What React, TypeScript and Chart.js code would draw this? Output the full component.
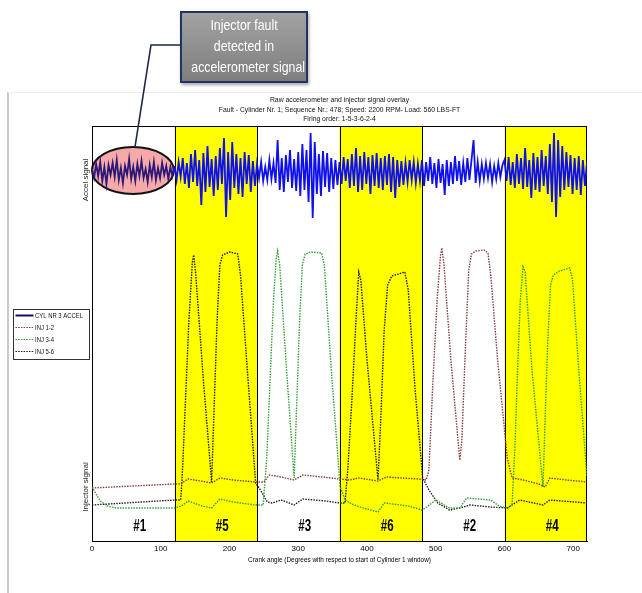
import { useEffect, useRef } from "react";
import { Chart, registerables } from "chart.js";

Chart.register(...registerables);

const FONT = '"Liberation Sans", Arial, sans-serif';

const TITLE_LINES = [
  "Raw accelerometer and injector signal overlay",
  "Fault - Cylinder Nr. 1; Sequence Nr.: 478; Speed: 2200 RPM- Load: 560 LBS-FT",
  "Firing order: 1-5-3-6-2-4",
];
const X_TITLE = "Crank angle (Degrees with respect to start of Cylinder 1 window)";
const X_TICKS = [0, 100, 200, 300, 400, 500, 600, 700];
const CALLOUT_LINES = ["Injector fault", "detected in", "accelerometer signal"];
const Y_LABELS = ["Accel signal", "Injector signal"];

const WINDOW_STARTS = [0, 120, 240, 360, 480, 600];
const WINDOW_WIDTH = 120;
const WINDOW_LABELS = ["#1", "#5", "#3", "#6", "#2", "#4"];
const WINDOW_HIGHLIGHT = [false, true, false, true, false, true];

const SERIES_LABELS = ["CYL NR 3 ACCEL", "INJ 1-2", "INJ 3-4", "INJ 5-6"];
const SERIES_COLORS = ["#1010ee", "#8a3b3b", "#34a034", "#1e1e1e"];

// Accelerometer samples, every 3 degrees from 0 to 720
const ACCEL_STEP = 3;
const ACCEL_VALUES = [
  3, -6, 8, -4, 10, -9, 5, -12, 7, -3,
  9, -5, 12, -8, 4, -11, 6, -3, 13, -7,
  5, -9, 8, -4, 11, -6, 3, -10, 7, -5,
  10, -8, 4, -6, 9, -3, 6, -7, 5, -4,
  6, -8, 10, -5, 14, -12, 9, -16, 18, -10,
  22, -14, 12, -33, 19, -20, 26, -15, 13, -24,
  16, -18, 24, -12, 34, -45, 20, -28, 30, -16,
  18, -22, 14, -25, 20, -12, 17, -20, 11, -14,
  8, -6, 10, -9, 5, -8, 12, -7, 9, -11,
  32, -18, 14, -20, 17, -10, 22, -16, 13, -19,
  20, -24, 28, -18, 22, -30, 39, -46, 30, -22,
  18, -24, 21, -15, 19, -20, 14, -17, 12, -13,
  10, -12, 15, -9, 13, -16, 18, -14, 24, -20,
  16, -18, 20, -12, 15, -22, 17, -14, 19, -16,
  14, -18, 16, -13, 18, -20, 15, -26, 12, -15,
  11, -13, 9, -10, 12, -8, 10, -11, 8, -9,
  12, -14, 10, -9, 15, -12, 9, -16, 13, -11,
  8, -23, 12, -14, 10, -12, 16, -9, 11, -13,
  9, -10, 14, -8, 12, 32, -11, 10, -9, 8,
  -7, 9, -6, 8, -10, 6, -7, 9, -5, 7,
  12, -9, 15, -13, 10, -16, 18, -12, 14, -17,
  24, -15, 12, -26, 19, -18, 15, -20, 22, -14,
  16, -22, 28, -30, 39, -45, 32, -25, 26, -18,
  20, -15, 17, -22, 14, -18, 16, -23, 12, -14,
  10,
];

const INJ12_ANGLES = [
  0, 120, 128, 140, 158, 174, 186, 205, 238, 250, 258, 275, 294, 307, 335, 360, 375, 388, 416, 428, 475, 486,
  490, 496, 502, 507, 509, 512, 522, 535, 538, 543, 548, 552, 558, 570, 576, 580, 590, 604, 611,
  627, 650, 659, 666, 690, 720,
];
const INJ12_VALUES = [
  53, 57, 57, 62, 60, 58, 63, 61, 59, 59, 66, 64, 61, 66, 64, 62, 61, 63, 60, 64, 62, 61,
  71, 161, 241, 286, 293, 276, 181, 81, 101, 191, 271, 287, 290, 291, 288, 266, 181, 83, 63,
  61, 57, 54, 63, 61, 59,
];

const INJ34_ANGLES = [
  0, 5, 12, 22, 35, 120, 130, 140, 160, 174, 186, 205, 238, 249,
  254, 259, 264, 268, 270, 273, 283, 294, 298, 302, 306, 310, 318, 334, 338, 348, 361,
  368, 375, 385, 400, 416, 425, 460, 480, 487, 500, 520, 535, 545, 580, 592, 605, 611,
  615, 619, 623, 627, 630, 640, 656, 659, 663, 667, 671, 680, 695, 699, 708, 720,
];
const INJ34_VALUES = [
  54, 48, 40, 35, 33, 33, 35, 40, 35, 33, 42, 39, 36, 36,
  81, 161, 241, 283, 290, 276, 171, 63, 141, 221, 276, 287, 289, 288, 276, 171, 54,
  41, 38, 35, 32, 29, 38, 35, 31, 34, 41, 33, 33, 43, 41, 35, 33, 36,
  91, 171, 241, 274, 269, 171, 54, 121, 201, 256, 266, 270, 273, 261, 171, 64,
];

const INJ56_ANGLES = [
  0, 120, 129, 131, 136, 141, 146, 148, 151, 162, 174, 178, 182, 186, 190, 200, 212, 216, 227, 238,
  245, 255, 262, 275, 294, 307, 340, 360, 368,
  372, 378, 384, 388, 391, 400, 416, 420, 425, 430, 436, 446, 455, 460, 470, 481,
  490, 503, 520, 535, 550, 580, 604, 622, 656, 666, 720,
];
const INJ56_VALUES = [
  36, 41, 41, 61, 141, 221, 279, 286, 266, 161, 59, 141, 221, 276, 286, 289, 287, 266, 161, 58,
  51, 39, 38, 41, 36, 42, 40, 38, 38,
  71, 141, 221, 269, 261, 181, 61, 121, 211, 256, 265, 267, 269, 251, 151, 63,
  51, 38, 31, 33, 36, 34, 33, 41, 36, 41, 38,
];

// Callout ellipse around the faulty window (degrees, accel units)
const ELLIPSE_X = [0, 119];
const ELLIPSE_Y = [-22, 25];

function squeezedText(ctx: any, text: string, x: number, y: number, sx: number, align: string) {
  ctx.save();
  ctx.translate(x, y);
  ctx.scale(sx, 1);
  ctx.textAlign = align;
  ctx.fillText(text, 0, 0);
  ctx.restore();
}

export default function App() {
  const ref = useRef<HTMLCanvasElement>(null);

  useEffect(() => {
    const canvas = ref.current;
    if (!canvas) return;

    const pts = (xs: number[], ys: number[]) => xs.map((x, i) => ({ x, y: ys[i] }));
    const accelPts = ACCEL_VALUES.map((v, i) => ({ x: i * ACCEL_STEP, y: v }));

    const backdrop = {
      id: "backdrop",
      beforeDatasetsDraw(chart: any) {
        const { ctx, chartArea: a, scales } = chart;
        const xs = scales.x;
        const ya = scales.yA;
        ctx.save();
        WINDOW_STARTS.forEach((s, i) => {
          if (!WINDOW_HIGHLIGHT[i]) return;
          const l = xs.getPixelForValue(s);
          const r = xs.getPixelForValue(s + WINDOW_WIDTH);
          ctx.fillStyle = "#ffff00";
          ctx.fillRect(l, a.top, r - l, a.bottom - a.top);
        });
        const ex0 = xs.getPixelForValue(ELLIPSE_X[0]);
        const ex1 = xs.getPixelForValue(ELLIPSE_X[1]);
        const ey0 = ya.getPixelForValue(ELLIPSE_Y[1]);
        const ey1 = ya.getPixelForValue(ELLIPSE_Y[0]);
        ctx.beginPath();
        ctx.ellipse((ex0 + ex1) / 2, (ey0 + ey1) / 2, (ex1 - ex0) / 2, (ey1 - ey0) / 2, 0, 0, Math.PI * 2);
        ctx.fillStyle = "#f6a9a9";
        ctx.fill();
        ctx.lineWidth = 2;
        ctx.strokeStyle = "#111";
        ctx.stroke();
        ctx.strokeStyle = "#000";
        ctx.lineWidth = 1;
        WINDOW_STARTS.slice(1).forEach((s) => {
          const px = Math.round(xs.getPixelForValue(s)) + 0.5;
          ctx.beginPath();
          ctx.moveTo(px, a.top);
          ctx.lineTo(px, a.bottom);
          ctx.stroke();
        });
        ctx.strokeRect(Math.round(a.left) + 0.5, Math.round(a.top) + 0.5, Math.round(a.right - a.left) - 1, Math.round(a.bottom - a.top));
        ctx.restore();
      },
      afterDatasetsDraw(chart: any) {
        const { ctx, chartArea: a, scales } = chart;
        const xs = scales.x;
        const cx = (a.left + a.right) / 2;
        ctx.save();
        ctx.textBaseline = "middle";
        // title
        ctx.fillStyle = "#111";
        ctx.font = `8px ${FONT}`;
        TITLE_LINES.forEach((t, i) => squeezedText(ctx, t, cx, a.top - 26 + i * 9.5, 0.85, "center"));
        // x title
        ctx.fillStyle = "#000";
        squeezedText(ctx, X_TITLE, cx, a.bottom + 19, 0.8, "center");
        // window labels
        ctx.font = `bold 16px ${FONT}`;
        WINDOW_STARTS.forEach((s, i) => {
          squeezedText(ctx, WINDOW_LABELS[i], xs.getPixelForValue(s + WINDOW_WIDTH / 2), a.bottom - 14, 0.72, "left");
        });
        // side labels
        ctx.font = `8px ${FONT}`;
        ctx.fillStyle = "#222";
        ctx.textAlign = "center";
        const side = (text: string, y: number) => {
          ctx.save();
          ctx.translate(a.left - 6, y);
          ctx.rotate(-Math.PI / 2);
          ctx.fillText(text, 0, 0);
          ctx.restore();
        };
        side(Y_LABELS[0], scales.yA.getPixelForValue(-8));
        side(Y_LABELS[1], scales.yI.getPixelForValue(54));
        // legend
        const lx = 13.5, ly = 309.5, lw = 76, lh = 50;
        ctx.fillStyle = "#fff";
        ctx.fillRect(lx, ly, lw, lh);
        ctx.strokeStyle = "#333";
        ctx.lineWidth = 1;
        ctx.strokeRect(lx, ly, lw, lh);
        ctx.font = `8px ${FONT}`;
        chart.data.datasets.forEach((d: any, i: number) => {
          const y = ly + 6 + i * 12;
          ctx.beginPath();
          ctx.strokeStyle = i === 0 ? "#101060" : d.borderColor;
          ctx.lineWidth = i === 0 ? 2 : 1.2;
          ctx.setLineDash(i === 0 ? [] : [1.5, 1.2]);
          ctx.moveTo(lx + 2, y);
          ctx.lineTo(lx + 20, y);
          ctx.stroke();
          ctx.setLineDash([]);
          ctx.fillStyle = "#111";
          squeezedText(ctx, d.label, lx + 21.5, y + 0.5, 0.74, "left");
        });
        ctx.restore();
      },
    };

    const injDs = (label: string, color: string, data: any[]) => ({
      label,
      data,
      yAxisID: "yI",
      borderColor: color,
      borderWidth: 1.4,
      borderDash: [1.5, 1.2],
      pointRadius: 0,
      tension: 0,
      fill: false,
    });

    const chart = new Chart(canvas, {
      type: "line",
      data: {
        datasets: [
          {
            label: SERIES_LABELS[0],
            data: accelPts,
            yAxisID: "yA",
            borderColor: SERIES_COLORS[0],
            borderWidth: 1.8,
            pointRadius: 0,
            tension: 0,
            fill: false,
            segment: {
              borderColor: (c: any) => (c.p0.parsed.x < WINDOW_WIDTH ? "#2c1877" : SERIES_COLORS[0]),
            },
          } as any,
          injDs(SERIES_LABELS[1], SERIES_COLORS[1], pts(INJ12_ANGLES, INJ12_VALUES)),
          injDs(SERIES_LABELS[2], SERIES_COLORS[2], pts(INJ34_ANGLES, INJ34_VALUES)),
          injDs(SERIES_LABELS[3], SERIES_COLORS[3], pts(INJ56_ANGLES, INJ56_VALUES)),
        ],
      },
      options: {
        responsive: false,
        animation: false,
        devicePixelRatio: 1,
        parsing: false as any,
        normalized: true,
        layout: { padding: { left: 92, right: 55, top: 126, bottom: 28 } },
        plugins: {
          legend: { display: false },
          tooltip: { enabled: false },
          title: { display: false },
        },
        scales: {
          x: {
            type: "linear",
            min: 0,
            max: 720,
            afterBuildTicks: (s: any) => {
              s.ticks = X_TICKS.map((v) => ({ value: v }));
            },
            afterFit: (s: any) => {
              s.height = 24;
            },
            grid: { display: false, drawTicks: false },
            border: { display: true, color: "#000", width: 1 },
            ticks: { color: "#000", font: { family: FONT, size: 8 }, padding: 3, maxRotation: 0 },
          },
          yA: { type: "linear", display: false, min: -369, max: 46 },
          yI: { type: "linear", display: false, min: 0, max: 415 },
        },
      },
      plugins: [backdrop],
    });

    return () => chart.destroy();
  }, []);

  return (
    <div style={{ position: "absolute", left: 0, top: 0, width: 642, height: 593, background: "#fff", overflow: "hidden" }}>
      <div style={{ position: "absolute", left: 7, top: 92, width: 2, height: 501, background: "#c9c9c9" }} />
      <div style={{ position: "absolute", left: 8, top: 92, width: 634, height: 1, background: "#efefef" }} />
      <canvas ref={ref} width={642} height={593} style={{ position: "absolute", left: 0, top: 0, width: 642, height: 593 }} />
      <svg width={642} height={593} style={{ position: "absolute", left: 0, top: 0, pointerEvents: "none" }}>
        <polyline points="180,45 151,45 135,147" fill="none" stroke="#1c2747" strokeWidth={1.6} />
      </svg>
      <div
        style={{
          position: "absolute",
          left: 180,
          top: 11,
          width: 124,
          height: 66,
          background: "linear-gradient(#a2a2a2, #7e7e7e)",
          border: "2px solid #1f3460",
          boxShadow: "1px 2px 3px rgba(0,0,0,0.35)",
          color: "#fff",
          fontFamily: FONT,
          fontSize: 14.5,
          lineHeight: "21px",
          textAlign: "center",
          paddingTop: 2,
          boxSizing: "content-box",
        }}
      >
        {CALLOUT_LINES.map((l) => (
          <div key={l} style={{ whiteSpace: "nowrap", transform: "scaleX(0.85)" }}>
            {l}
          </div>
        ))}
      </div>
    </div>
  );
}
